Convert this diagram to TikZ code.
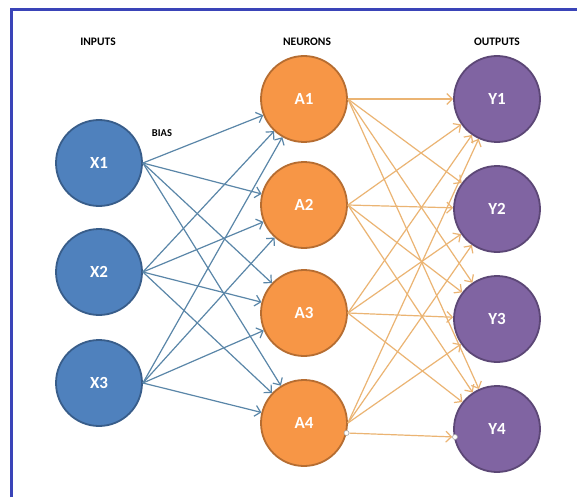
\documentclass[tikz,border=0pt]{standalone}
\usepackage{fontspec}
\setmainfont{Carlito}
\usetikzlibrary{arrows.meta}
\definecolor{inblue}{HTML}{4F81BD}
\definecolor{inblueD}{HTML}{385D8A}
\definecolor{neur}{HTML}{F79646}
\definecolor{neurD}{HTML}{B66D31}
\definecolor{outp}{HTML}{8064A2}
\definecolor{outpD}{HTML}{5C4776}
\definecolor{edgeblue}{HTML}{5A86A8}
\definecolor{edgetan}{HTML}{EBB473}
\definecolor{frameblue}{HTML}{3A44B8}
\tikzset{
  unit/.style={circle, minimum size=86pt, inner sep=0pt, line width=1.8pt, text=white, font=\bfseries\fontsize{17}{17}\selectfont},
  inunit/.style={unit, fill=inblue, draw=inblueD},
  hidunit/.style={unit, fill=neur, draw=neurD},
  outunit/.style={unit, fill=outp, draw=outpD},
  header/.style={font=\bfseries\fontsize{11.5}{12}\selectfont, text=black},
  inedge/.style={draw=edgeblue, line width=1.2pt, -{Straight Barb[length=5.5pt,width=11pt]}},
  hidedge/.style={draw=edgetan, line width=1.2pt, -{Straight Barb[length=5.5pt,width=11pt]}},
  handle/.style={circle, fill=white, draw=gray!70, line width=0.6pt, minimum size=5pt, inner sep=0pt}
}
\begin{document}
\begin{tikzpicture}[x=1pt,y=-1pt]
\useasboundingbox (0,0) rectangle (577,497);
\fill[white] (0,0) rectangle (577,497);
\draw[frameblue, line width=3pt] (11.5,497) -- (11.5,9.5) -- (577,9.5);

\node[header] (hin) at (98,42) {INPUTS};
\node[header] (hne) at (307,42) {NEURONS};
\node[header] (hout) at (497,42) {OUTPUTS};
\node[header, font=\bfseries\fontsize{10.5}{11}\selectfont] (bias) at (162,133) {BIAS};

\node[inunit] (X1) at (99,163) {X1};
\node[inunit] (X2) at (99,272) {X2};
\node[inunit] (X3) at (99,383) {X3};

\node[hidunit] (A1) at (304,99) {A1};
\node[hidunit] (A2) at (304,205) {A2};
\node[hidunit] (A3) at (304,313) {A3};
\node[hidunit] (A4) at (304,423) {A4};

\node[outunit] (Y1) at (497,99) {Y1};
\node[outunit] (Y2) at (497,209) {Y2};
\node[outunit] (Y3) at (497,319) {Y3};
\node[outunit] (Y4) at (497,429) {Y4};

\foreach \i in {1,2,3}{
  \foreach \j in {1,2,3,4}{
    \draw[inedge] (X\i.east) -- (A\j);
  }
}
\foreach \i in {1,2,3}{
  \foreach \j in {1,2,3,4}{
    \draw[hidedge] (A\i.east) -- (Y\j);
  }
}
\node[handle] (h1) at (346.5,433) {};
\node[handle] (h2) at (455,437) {};
\foreach \j in {1,2,3}{
  \draw[hidedge] (A4.east) -- (Y\j);
}
\draw[hidedge] (h1) -- (h2);
\end{tikzpicture}
\end{document}
